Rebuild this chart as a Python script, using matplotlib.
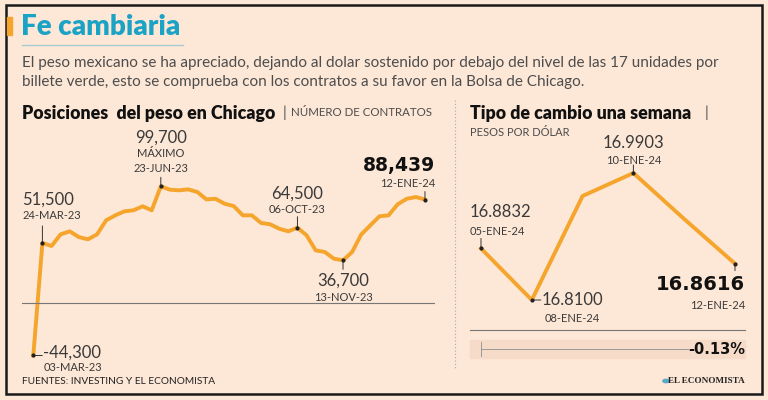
import matplotlib.pyplot as plt
from matplotlib.patches import Rectangle, Circle
from matplotlib.lines import Line2D

# data: posiciones del peso en Chicago (contratos), semanal
contratos = [-44300, 51500, 48900, 58800, 61400, 56500, 54600, 58800, 70800, 75000,
             78400, 79300, 82700, 79300, 99700, 96800, 96300, 97100, 94900, 88600,
             89100, 84900, 82900, 75000, 75000, 68500, 67400, 63600, 61400, 64500,
             58000, 45200, 43800, 38100, 36700, 43800, 58700, 66500, 74200, 75000,
             84400, 89100, 90600, 88439]
# tipo de cambio, pesos por dolar
dias = ['05-ENE-24', '08-ENE-24', '09-ENE-24', '10-ENE-24', '11-ENE-24', '12-ENE-24']
tipo_cambio = [16.8832, 16.8100, 16.9577, 16.9903, 16.9250, 16.8616]
variacion = '-0.13%'

BG = '#FDE7D6'
ORANGE = '#F5A52C'
TEAL = '#1BA3C6'
DARK = '#3a3a3a'
GRAY = '#4d4d4d'
FONT = 'Lato'
BOLDNUM = 'DejaVu Sans'

W, H = 768, 400


def fx(x):
    return x / W


def fy(y):
    return 1 - y / H


fig = plt.figure(figsize=(7.68, 4), dpi=100, facecolor=BG)

# frame, title
fig.add_artist(Rectangle((fx(6), fy(394)), fx(756), (394 - 5) / H, fill=False,
                         edgecolor='#1a1a1a', lw=1.8, transform=fig.transFigure))
fig.add_artist(Rectangle((fx(7), fy(35)), fx(5), 18 / H, color=ORANGE,
                         transform=fig.transFigure))
fig.text(fx(21), fy(27), 'Fe cambiaria', color=TEAL, fontsize=20, fontweight='heavy',
         family=FONT, va='center')
fig.add_artist(Line2D([fx(22), fx(183)], [fy(45), fy(45)], color='#A8CBD2', lw=1,
                      transform=fig.transFigure))
fig.text(fx(22), fy(63), 'El peso mexicano se ha apreciado, dejando al dolar sostenido por debajo '
         'del nivel de las 17 unidades por', color=GRAY, fontsize=11, family=FONT, va='center')
fig.text(fx(22), fy(82), 'billete verde, esto se comprueba con los contratos a su favor en la '
         'Bolsa de Chicago.', color=GRAY, fontsize=11, family=FONT, va='center')

fig.text(fx(22), fy(113), 'Posiciones  del peso en Chicago', color='#111', fontsize=12.8,
         fontweight='heavy', family=FONT, va='center')
fig.text(fx(283), fy(113), '|', color=GRAY, fontsize=11, family=FONT, va='center')
fig.text(fx(291), fy(113), 'NÚMERO DE CONTRATOS', color=GRAY, fontsize=8.3, family=FONT,
         va='center')
fig.text(fx(470), fy(113), 'Tipo de cambio una semana', color='#111', fontsize=12.8,
         fontweight='heavy', family=FONT, va='center')
fig.text(fx(705), fy(113), '|', color=GRAY, fontsize=11, family=FONT, va='center')
fig.text(fx(470), fy(132), 'PESOS POR DÓLAR', color=GRAY, fontsize=8, family=FONT,
         va='center')

fig.add_artist(Line2D([fx(455), fx(455)], [fy(100), fy(370)], color='#aaaaaa', lw=0.8,
                      ls=(0, (1, 2)), transform=fig.transFigure))

fig.text(fx(22), fy(381), 'FUENTES: INVESTING Y EL ECONOMISTA', color='#222', fontsize=7.3,
         family=FONT, va='center')
fig.text(fx(745), fy(381), 'EL ECONOMISTA', color='#222', fontsize=6.6, fontweight='bold',
         family='Liberation Serif', va='center', ha='right')
fig.add_artist(Circle((fx(666), fy(381)), 3.2 / W, color='#5AA9C9',
                      transform=fig.transFigure))


def label(ax, x, y, text, dx, dy, size=12, weight='normal', ha='center', color=DARK,
          family=FONT):
    ax.annotate(text, xy=(x, y), xytext=(dx, dy), textcoords='offset pixels',
                ha=ha, va='center', fontsize=size, fontweight=weight, color=color,
                family=family, annotation_clip=False)


def leader(ax, x, y, dx, dy):
    ax.annotate('', xy=(x, y), xytext=(dx, dy), textcoords='offset pixels',
                arrowprops=dict(arrowstyle='-', lw=0.7, color='#333',
                                shrinkA=0, shrinkB=0), annotation_clip=False)
    ax.plot([x], [y], 'o', ms=2, color='#222', zorder=5)


# left chart
ax1 = fig.add_axes([fx(22), fy(367), (435 - 22) / W, (367 - 127) / H])
xs = list(range(len(contratos)))
ax1.plot(xs, contratos, color=ORANGE, lw=2.8, solid_joinstyle='round')
ax1.axhline(0, color='#777', lw=0.8)
ax1.set_xlim(-1.24, 44.1)
ax1.set_ylim(-54100, 150200)
ax1.axis('off')

leader(ax1, 1, contratos[1], 0, 17)
label(ax1, 1, contratos[1], '51,500', -20, 43, ha='left')
label(ax1, 1, contratos[1], '24-MAR-23', -20, 27, size=8, ha='left')

leader(ax1, 14, contratos[14], 0, 9)
label(ax1, 14, contratos[14], '99,700', 0, 49)
label(ax1, 14, contratos[14], 'MÁXIMO', 0, 33, size=8)
label(ax1, 14, contratos[14], '23-JUN-23', 0, 18, size=8)

leader(ax1, 29, contratos[29], 0, 11)
label(ax1, 29, contratos[29], '64,500', 0, 34)
label(ax1, 29, contratos[29], '06-OCT-23', 0, 18, size=8)

leader(ax1, 34, contratos[34], 0, -9)
label(ax1, 34, contratos[34], '36,700', 0, -20)
label(ax1, 34, contratos[34], '13-NOV-23', 0, -37, size=8)

leader(ax1, 43, contratos[43], 0, 8)
label(ax1, 43, contratos[43], '88,439', 10, 34, size=13.5, weight='bold', ha='right',
      color='#111', family=BOLDNUM)
label(ax1, 43, contratos[43], '12-ENE-24', 10, 16, size=8, ha='right')

leader(ax1, 0, contratos[0], 9, 0)
label(ax1, 0, contratos[0], '-44,300', 10, 3, ha='left')
label(ax1, 0, contratos[0], '03-MAR-23', 10, -12, size=8, ha='left')

# right chart
ax2 = fig.add_axes([fx(470), fy(330), (745 - 470) / W, (330 - 130) / H])
xd = list(range(len(dias)))
ax2.plot(xd, tipo_cambio, color=ORANGE, lw=2.8, solid_joinstyle='round')
ax2.set_xlim(-0.2165, 5.197)
ax2.set_ylim(16.7674, 17.0514)
for s in ['top', 'left', 'right']:
    ax2.spines[s].set_visible(False)
ax2.spines['bottom'].set_color('#777')
ax2.spines['bottom'].set_linewidth(0.8)
ax2.set_xticks([])
ax2.set_yticks([])
ax2.patch.set_alpha(0)

leader(ax2, 0, tipo_cambio[0], 0, 10)
label(ax2, 0, tipo_cambio[0], '16.8832', -11, 36, ha='left')
label(ax2, 0, tipo_cambio[0], dias[0], -11, 17, size=8, ha='left')

leader(ax2, 1, tipo_cambio[1], 9, 0)
label(ax2, 1, tipo_cambio[1], '16.8100', 10, 0, ha='left')
label(ax2, 1, tipo_cambio[1], dias[1], 13, -18, size=8, ha='left')

leader(ax2, 3, tipo_cambio[3], 0, 8)
label(ax2, 3, tipo_cambio[3], '16.9903', 0, 30)
label(ax2, 3, tipo_cambio[3], dias[3], 0, 13, size=8)

leader(ax2, 5, tipo_cambio[5], 0, -7)
label(ax2, 5, tipo_cambio[5], '16.8616', 10, -21, size=14, weight='bold', ha='right',
      color='#111', family=BOLDNUM)
label(ax2, 5, tipo_cambio[5], dias[5], 10, -42, size=8, ha='right')

# variation band
fig.add_artist(Rectangle((fx(470), fy(358)), (745 - 470) / W, 18 / H, color='#F6DCC8',
                         transform=fig.transFigure))
fig.add_artist(Line2D([fx(481), fx(688)], [fy(349), fy(349)], color='#999', lw=0.7,
                      transform=fig.transFigure))
fig.add_artist(Line2D([fx(481), fx(481)], [fy(342), fy(356)], color='#999', lw=0.7,
                      transform=fig.transFigure))
fig.text(fx(745), fy(349), variacion, color='#111', fontsize=10.5, fontweight='bold',
         family=BOLDNUM, ha='right', va='center')

fig.savefig('out.png', dpi=100, facecolor=BG)
